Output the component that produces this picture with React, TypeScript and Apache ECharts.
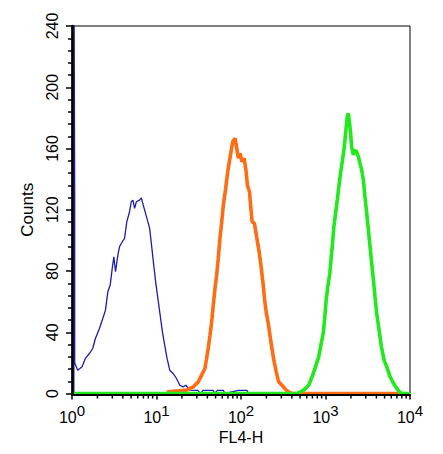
import React, { useEffect, useRef } from "react";
import * as echarts from "echarts";

// x values are decades (log10 of FL4-H), y values are counts
const xTickExponents = [0, 1, 2, 3, 4];
const yTicks = [0, 40, 80, 120, 160, 200, 240];
const xMinorMultipliers = [2, 3, 4, 5, 6, 7, 8, 9];

const bluePoints: [number, number][] = [
  [0.022, 0], [0.022, 300], [0.032, 130], [0.032, 20], [0.067, 15.2], [0.119, 17.4], [0.158, 22.9],
  [0.206, 26.1], [0.245, 29.4], [0.277, 35.9], [0.325, 42.5], [0.364, 49], [0.396, 54.4],
  [0.424, 66.4], [0.452, 70.8], [0.476, 81.7], [0.495, 89.3], [0.515, 79.5], [0.543, 90.4],
  [0.562, 95.8], [0.595, 99.1], [0.622, 101.3], [0.649, 112.2], [0.681, 118.7], [0.701, 125.2],
  [0.721, 126.3], [0.741, 120.9], [0.761, 125.2], [0.8, 126.3], [0.82, 127.8], [0.848, 122],
  [0.887, 114.4], [0.919, 107.8], [0.939, 98], [0.967, 83.9], [0.99, 72.9], [1.011, 64.2],
  [1.038, 53.3], [1.07, 40.3], [1.097, 31.6], [1.125, 22.9], [1.157, 15.2], [1.196, 13.1],
  [1.237, 9.8], [1.276, 5.4], [1.315, 4.3], [1.347, 5.4], [1.395, 2.2], [1.454, 2], [1.49, 2],
  [1.52, 0], [1.55, 2], [1.67, 2], [1.69, 0], [1.72, 2], [1.79, 2], [1.81, 0], [1.97, 2],
  [2.07, 2], [2.09, 0], [4, 0],
];

const orangePoints: [number, number][] = [
  [1.12, 1], [1.356, 2.2], [1.434, 4.3], [1.494, 7.6], [1.534, 12], [1.573, 16.3], [1.593, 22.9],
  [1.612, 29.4], [1.633, 38.1], [1.653, 46.8], [1.672, 57.7], [1.692, 68.6], [1.712, 77.3],
  [1.731, 88.2], [1.751, 101.3], [1.772, 112.2], [1.791, 123.1], [1.819, 134], [1.843, 144.8],
  [1.862, 151.4], [1.882, 157.9], [1.902, 164.4], [1.93, 166.7], [1.95, 160.1], [1.969, 153.6],
  [1.989, 156.9], [2.01, 151.4], [2.037, 153.6], [2.061, 144.8], [2.076, 136.1], [2.1, 131.8],
  [2.117, 120.9], [2.132, 112.2], [2.159, 111.1], [2.188, 101.3], [2.215, 92.5], [2.235, 83.9],
  [2.259, 72.9], [2.278, 62.1], [2.298, 53.3], [2.326, 44.6], [2.354, 33.7], [2.385, 22.9],
  [2.417, 14.1], [2.445, 7.6], [2.485, 5.4], [2.536, 2.2], [2.564, 1], [2.6, 0], [3.87, 0],
];

const greenPoints: [number, number][] = [
  [0, 0], [2.663, 0], [2.742, 2.2], [2.801, 5.4], [2.842, 10.9], [2.881, 17.4], [2.92, 23.9],
  [2.949, 32.7], [2.973, 39.2], [2.992, 50.1], [3.008, 61], [3.027, 69.7], [3.051, 78.4],
  [3.068, 89.3], [3.083, 98], [3.099, 108.9], [3.119, 117.6], [3.139, 126.3], [3.158, 135],
  [3.178, 143.8], [3.198, 151.4], [3.218, 159], [3.238, 169.9], [3.258, 180.8], [3.27, 183],
  [3.285, 176.5], [3.297, 169.9], [3.309, 161.2], [3.329, 155.8], [3.345, 159], [3.369, 157.9],
  [3.389, 154.6], [3.408, 150.3], [3.428, 146], [3.448, 139.4], [3.467, 128.5], [3.488, 117.6],
  [3.508, 106.7], [3.527, 95.8], [3.547, 85], [3.567, 74.1], [3.586, 63.1], [3.606, 52.3],
  [3.634, 41.4], [3.662, 30.5], [3.693, 21.8], [3.725, 17.4], [3.765, 10.9], [3.805, 6.5],
  [3.844, 3.3], [3.883, 0.4], [3.931, 0], [4, 0],
];

const FONT = "'Liberation Sans', Arial, Helvetica, sans-serif";

export default function App() {
  const ref = useRef<HTMLDivElement>(null);

  useEffect(() => {
    if (!ref.current) return;
    const chart = echarts.init(ref.current, undefined, { renderer: "svg" });

    const minorTickData: [number, number][] = [];
    for (let i = 0; i < xTickExponents.length - 1; i++) {
      for (const m of xMinorMultipliers) {
        minorTickData.push([xTickExponents[i] + Math.log10(m), 0]);
      }
    }

    chart.setOption({
      animation: false,
      backgroundColor: "#ffffff",
      grid: {
        left: 72,
        right: 33,
        top: 26,
        bottom: 60.5,
        show: true,
        borderColor: "#000",
        borderWidth: 1,
        backgroundColor: "transparent",
      },
      xAxis: {
        type: "value",
        min: xTickExponents[0],
        max: xTickExponents[xTickExponents.length - 1],
        interval: 1,
        offset: 1,
        z: 5,
        name: "FL4-H",
        nameLocation: "middle",
        nameGap: 34,
        nameTextStyle: { fontFamily: FONT, fontSize: 16, color: "#000", verticalAlign: "top" },
        axisLine: { show: true, onZero: false, lineStyle: { color: "#000", width: 2 } },
        axisTick: { show: true, length: 5, lineStyle: { color: "#000", width: 1.5 } },
        splitLine: { show: false },
        axisLabel: {
          margin: 8,
          formatter: (v: number) => `{b|10}{s|${Math.round(v)}}`,
          rich: {
            b: { fontFamily: FONT, fontSize: 16, color: "#000" },
            s: { fontFamily: FONT, fontSize: 15, color: "#000", padding: [0, 0, 14, 0] },
          },
        },
      },
      yAxis: {
        type: "value",
        min: yTicks[0],
        max: yTicks[yTicks.length - 1],
        interval: 40,
        z: 5,
        name: "Counts",
        nameLocation: "middle",
        nameGap: 33,
        nameTextStyle: { fontFamily: FONT, fontSize: 17, color: "#000" },
        axisLine: { show: true, lineStyle: { color: "#000", width: 2.5 } },
        axisTick: { show: true, length: 6, lineStyle: { color: "#000", width: 1.5 } },
        minorTick: { show: true, splitNumber: 5, length: 4, lineStyle: { color: "#000", width: 1.5 } },
        splitLine: { show: false },
        axisLabel: {
          rotate: 90,
          margin: 12,
          fontFamily: FONT,
          fontSize: 16,
          color: "#000",
        },
      },
      series: [
        {
          type: "line",
          data: bluePoints,
          symbol: "none",
          lineStyle: { color: "#1c1cae", width: 1.3 },
          z: 2,
        },
        {
          type: "line",
          data: orangePoints,
          symbol: "none",
          lineStyle: { color: "#ff6c14", width: 3.6 },
          z: 3,
        },
        {
          type: "line",
          data: greenPoints,
          symbol: "none",
          lineStyle: { color: "#22e81e", width: 3.6 },
          z: 4,
        },
        {
          type: "custom",
          silent: true,
          clip: false,
          z: 6,
          data: minorTickData,
          renderItem: (_params: any, api: any) => {
            const p = api.coord([api.value(0), 0]);
            return {
              type: "line",
              shape: { x1: p[0], y1: p[1] + 1, x2: p[0], y2: p[1] + 5 },
              style: { stroke: "#000", lineWidth: 1.5 },
            };
          },
        },
      ],
    });

    return () => chart.dispose();
  }, []);

  return (
    <div
      ref={ref}
      style={{ position: "fixed", left: 0, top: 0, width: 443, height: 454, background: "#fff" }}
    />
  );
}
